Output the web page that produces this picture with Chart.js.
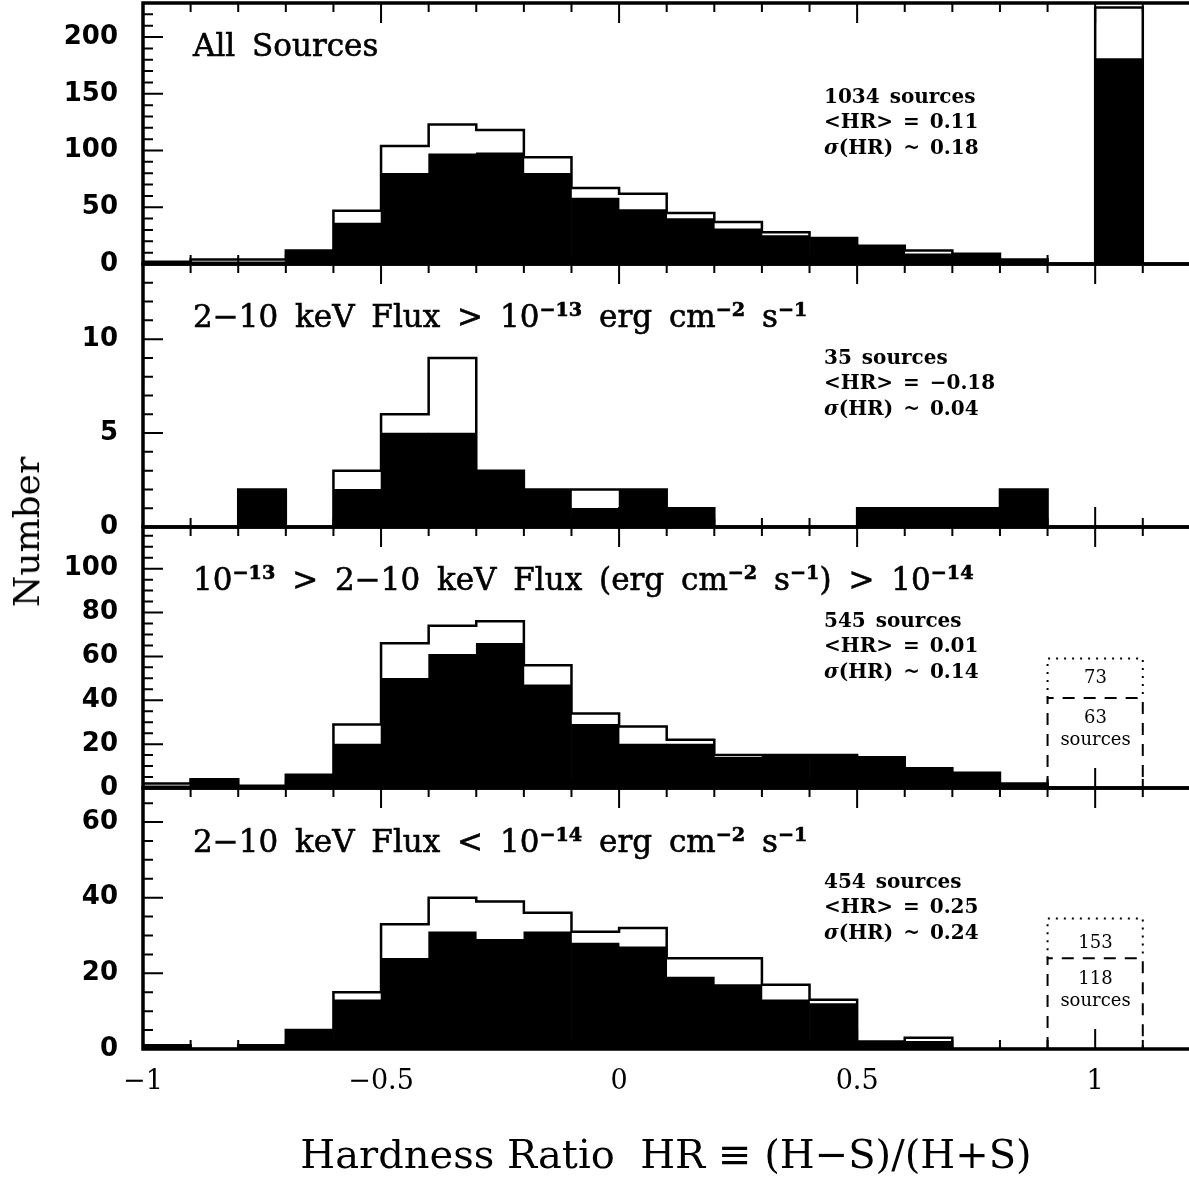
<!DOCTYPE html>
<html>
<head>
<meta charset="utf-8">
<title>Hardness ratio histograms</title>
<script src="https://cdn.jsdelivr.net/npm/chart.js@4.4.1/dist/chart.umd.min.js"></script>
<style>
  body { margin: 0; background: #fff; overflow: hidden; }
  #page { position: relative; width: 1189px; height: 1177px; overflow: hidden; }
  #page canvas { position: absolute; left: 0; }
  .txt { position: absolute; font-family: "DejaVu Serif", serif; color: #000; white-space: nowrap; }
  .title { font-size: 31px; line-height: 30px; word-spacing: 7px; -webkit-text-stroke: 0.6px #000; }
  .stats { font-size: 20px; line-height: 25.5px; font-weight: bold; word-spacing: 3px; }
  .boxtxt { font-size: 18px; line-height: 18px; width: 95px; text-align: center; }
  sup { font-size: 0.62em; vertical-align: 0.55em; line-height: 0; font-weight: bold; }
  #ytitle { font-size: 36px; line-height: 36px; transform: translate(-50%, -50%) rotate(-90deg); left: 27px; top: 532px; }
</style>
</head>
<body>
<div id="page"></div>
<script>
// left edges of the 0.1-wide hardness ratio bins
const binEdges = [-1.0, -0.9, -0.8, -0.7, -0.6, -0.5, -0.4, -0.3, -0.2, -0.1, 0.0,
                  0.1, 0.2, 0.3, 0.4, 0.5, 0.6, 0.7, 0.8, 0.9, 1.0];
const BIN_WIDTH = 0.1;
const xTicks = [-1, -0.5, 0, 0.5, 1];

// all sources (open = all, filled = black histogram)
const allOpen   = [2, 4, 4, 12, 47, 104, 123, 118, 94, 67, 62, 45, 37, 28, 23, 16, 12, 9, 4, 0, 226];
const allFilled = [2, 2, 2, 12, 36, 80, 97, 98, 80, 58, 48, 40, 31, 25, 22, 16, 9, 8, 4, 0, 181];
const allTicks  = [0, 50, 100, 150, 200];

// flux > 1e-13
const brightOpen   = [0, 0, 2, 0, 3, 6, 9, 3, 2, 2, 2, 1, 0, 0, 0, 1, 1, 1, 2, 0, 0];
const brightFilled = [0, 0, 2, 0, 2, 5, 5, 3, 2, 1, 2, 1, 0, 0, 0, 1, 1, 1, 2, 0, 0];
const brightTicks  = [0, 5, 10];

// 1e-13 > flux > 1e-14
const midOpen   = [2, 4, 1, 6, 29, 66, 74, 76, 56, 34, 28, 22, 15, 15, 15, 14, 9, 7, 2, 0, 0];
const midFilled = [1, 4, 1, 6, 20, 50, 61, 66, 47, 29, 20, 20, 14, 15, 15, 14, 9, 7, 2, 0, 0];
const midTicks  = [0, 20, 40, 60, 80, 100];

// flux < 1e-14
const faintOpen   = [1, 0, 1, 5, 15, 33, 40, 39, 36, 31, 32, 24, 24, 17, 13, 2, 3, 0, 0, 0, 0];
const faintFilled = [1, 0, 1, 5, 13, 24, 31, 29, 31, 28, 27, 19, 17, 13, 12, 2, 2, 0, 0, 0, 0];
const faintTicks  = [0, 20, 40, 60];

// HR = 1 sources shown as a box instead of a bar
const midBox   = { lo: 0.9, hi: 1.1, top: 59, split: 41, upper: '73', lower: '63' };
const faintBox = { lo: 0.9, hi: 1.1, top: 34.5, split: 24, upper: '153', lower: '118' };

const panels = [
  { top: 3, bottom: 264, yMax: 230, yMajor: 50, yMinor: 10, ticks: allTicks,
    open: allOpen, filled: allFilled, titleDy: 41,
    title: 'All Sources',
    stats: ['1034 sources', '&lt;HR&gt; = 0.11', '<i>σ</i>(HR) ~ 0.18'] },
  { top: 264, bottom: 527, yMax: 14, yMajor: 5, yMinor: 1, ticks: brightTicks,
    open: brightOpen, filled: brightFilled, titleDy: 51,
    title: '2−10 keV Flux &gt; 10<sup>−13</sup> erg cm<sup>−2</sup> s<sup>−1</sup>',
    stats: ['35 sources', '&lt;HR&gt; = −0.18', '<i>σ</i>(HR) ~ 0.04'] },
  { top: 527, bottom: 788, yMax: 119, yMajor: 20, yMinor: 5, ticks: midTicks,
    open: midOpen, filled: midFilled, titleDy: 51, box: midBox,
    title: '10<sup>−13</sup> &gt; 2−10 keV Flux (erg cm<sup>−2</sup> s<sup>−1</sup>) &gt; 10<sup>−14</sup>',
    stats: ['545 sources', '&lt;HR&gt; = 0.01', '<i>σ</i>(HR) ~ 0.14'] },
  { top: 788, bottom: 1049, yMax: 69, yMajor: 20, yMinor: 5, ticks: faintTicks,
    open: faintOpen, filled: faintFilled, titleDy: 52, box: faintBox,
    title: '2−10 keV Flux &lt; 10<sup>−14</sup> erg cm<sup>−2</sup> s<sup>−1</sup>',
    stats: ['454 sources', '&lt;HR&gt; = 0.25', '<i>σ</i>(HR) ~ 0.24'] }
];

// the plot frame runs past the right edge of the page, as in the original figure
const X_MAX = 1.3;

// frame and inward tick marks on all four sides
const panelFrame = {
  id: 'panelFrame',
  afterDatasetsDraw(chart, args, opts) {
    const { ctx, chartArea: a, scales: { x, y } } = chart;
    ctx.save();
    ctx.strokeStyle = '#000';
    ctx.lineWidth = 2;
    ctx.beginPath();
    for (let i = -10; i <= Math.round(X_MAX * 10); i++) {
      const px = x.getPixelForValue(i / 10);
      const len = i % 5 === 0 ? 20 : 9;
      ctx.moveTo(px, a.bottom); ctx.lineTo(px, a.bottom - len);
      ctx.moveTo(px, a.top); ctx.lineTo(px, a.top + len);
    }
    for (let v = 0; v <= opts.yMax; v += opts.yMinor) {
      const py = y.getPixelForValue(v);
      const len = v % opts.yMajor === 0 ? 20 : 10;
      ctx.moveTo(a.left, py); ctx.lineTo(a.left + len, py);
      ctx.moveTo(a.right, py); ctx.lineTo(a.right - len, py);
    }
    ctx.stroke();
    ctx.lineWidth = 3.5;
    ctx.strokeRect(a.left, a.top, a.right - a.left, a.bottom - a.top);
    ctx.restore();
  }
};

const sourceBox = {
  id: 'sourceBox',
  afterDatasetsDraw(chart, args, opts) {
    if (!opts || !opts.top) return;
    const { ctx, scales: { x, y } } = chart;
    const l = x.getPixelForValue(opts.lo), r = x.getPixelForValue(opts.hi);
    const t = y.getPixelForValue(opts.top), m = y.getPixelForValue(opts.split), b = y.getPixelForValue(0);
    ctx.save();
    ctx.strokeStyle = '#000';
    ctx.lineWidth = 2;
    ctx.setLineDash([2, 6]);
    ctx.beginPath();
    ctx.moveTo(l, m); ctx.lineTo(l, t); ctx.lineTo(r, t); ctx.lineTo(r, m);
    ctx.stroke();
    ctx.setLineDash([12, 9]);
    ctx.beginPath();
    ctx.moveTo(l, b); ctx.lineTo(l, m); ctx.lineTo(r, m); ctx.lineTo(r, b);
    ctx.stroke();
    ctx.restore();
  }
};

const page = document.getElementById('page');
const PAD = 30;
const CANVAS_W = 1260;

function addText(cls, html, left, top) {
  const d = document.createElement('div');
  d.className = 'txt ' + cls;
  d.innerHTML = html;
  d.style.left = left + 'px';
  d.style.top = top + 'px';
  page.appendChild(d);
  return d;
}

// labels may hang over the panel edges, neighbouring canvases take care of that
function noLabelPadding(s) {
  s.paddingTop = 0;
  s.paddingBottom = 0;
}

panels.forEach((p, idx) => {
  const isLast = idx === panels.length - 1;
  const canvas = document.createElement('canvas');
  const cTop = p.top - PAD;
  const cHeight = isLast ? 1177 - cTop : (p.bottom - p.top) + 2 * PAD;
  canvas.width = CANVAS_W;
  canvas.height = cHeight;
  canvas.style.top = cTop + 'px';
  canvas.style.width = CANVAS_W + 'px';
  canvas.style.height = cHeight + 'px';
  page.appendChild(canvas);

  const outline = binEdges.map((e, i) => ({ x: e, y: p.open[i] }));
  outline.push({ x: binEdges[binEdges.length - 1] + BIN_WIDTH, y: p.open[p.open.length - 1] });
  outline.push({ x: binEdges[binEdges.length - 1] + BIN_WIDTH, y: 0 });
  const bars = binEdges.map((e, i) => ({ x: e + BIN_WIDTH / 2, y: p.filled[i] }));

  new Chart(canvas, {
    type: 'line',
    data: {
      datasets: [{
        type: 'line',
        label: 'all',
        data: outline,
        stepped: true,
        borderColor: '#000',
        borderWidth: 2.5,
        pointRadius: 0,
        fill: false,
        order: 1
      }, {
        type: 'bar',
        label: 'hard',
        data: bars,
        backgroundColor: '#000',
        borderWidth: 0,
        barPercentage: 1,
        categoryPercentage: 1,
        order: 2
      }]
    },
    options: {
      responsive: false,
      animation: false,
      layout: { padding: { left: 0, right: 22, top: PAD, bottom: isLast ? 0 : PAD } },
      plugins: {
        legend: { display: false },
        tooltip: { enabled: false },
        panelFrame: { yMax: p.yMax, yMajor: p.yMajor, yMinor: p.yMinor },
        sourceBox: p.box || {}
      },
      scales: {
        x: {
          type: 'linear',
          min: -1,
          max: X_MAX,
          offset: false,
          display: isLast,
          grid: { display: false, drawTicks: false },
          border: { display: false },
          afterBuildTicks: s => { s.ticks = xTicks.map(v => ({ value: v })); },
          afterFit: s => { if (isLast) s.height = 128; },
          ticks: {
            padding: 17,
            autoSkip: false,
            maxRotation: 0,
            color: '#000',
            font: { family: 'DejaVu Serif', size: 27 },
            callback: v => String(v).replace('-', '−')
          },
          title: {
            display: false
          }
        },
        y: {
          min: 0,
          max: p.yMax,
          grid: { display: false, drawTicks: false },
          border: { display: false },
          afterBuildTicks: s => { s.ticks = p.ticks.map(v => ({ value: v })); },
          afterFit: s => { s.width = 143; noLabelPadding(s); },
          ticks: {
            padding: 25,
            autoSkip: false,
            color: '#000',
            font: { family: 'DejaVu Sans', weight: 'bold', size: 26 }
          }
        }
      }
    },
    plugins: [panelFrame, sourceBox]
  });

  addText('title', p.title, 193, p.top + p.titleDy - 14.5);
  addText('stats', p.stats.join('<br>'), 824, p.top + 80.6);
  if (p.box) {
    const by = p.top === 527 ? [677, 717, 740] : [942, 978, 1001];
    addText('boxtxt', p.box.upper, 1048, by[0] - 8.6);
    addText('boxtxt', p.box.lower, 1048, by[1] - 8.6);
    addText('boxtxt', 'sources', 1048, by[2] - 10.3);
  }
});

// axis titles: the page is narrower than the frame, so centre them on the visible part
const xTitle = document.createElement('div');
xTitle.className = 'txt';
xTitle.textContent = 'Hardness Ratio  HR ≡ (H−S)/(H+S)';
xTitle.style.cssText = 'font-size:40px;line-height:40px;white-space:pre;left:666px;top:1154px;transform:translate(-50%,-50%);';
page.appendChild(xTitle);

const yTitle = document.createElement('div');
yTitle.id = 'ytitle';
yTitle.className = 'txt';
yTitle.textContent = 'Number';
page.appendChild(yTitle);
</script>
</body>
</html>
